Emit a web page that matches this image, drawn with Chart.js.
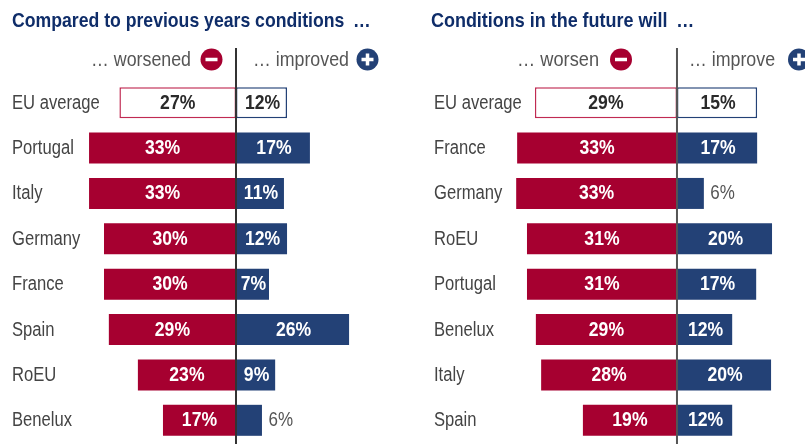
<!DOCTYPE html>
<html><head><meta charset="utf-8">
<style>
html,body{margin:0;padding:0;background:#fff;overflow:hidden}
canvas{display:block}
</style>
<script src="https://cdn.jsdelivr.net/npm/chart.js@4/dist/chart.umd.min.js"></script>
</head><body>
<div style="position:absolute;left:0;top:0;width:405px;height:444px"><canvas id="c1" width="405" height="444"></canvas></div>
<div style="position:absolute;left:405px;top:0;width:400px;height:444px"><canvas id="c2" width="400" height="444"></canvas></div>
<script>
// Left panel
const pastCategories = ["EU average","Portugal","Italy","Germany","France","Spain","RoEU","Benelux"];
const pastWorsened = [26.5,33.4,33.4,30.0,30.0,28.9,22.3,16.6];
const pastImproved = [11.6,16.8,10.9,11.6,7.5,25.7,8.9,5.9];
const pastWorsenedLabels = ["27%","33%","33%","30%","30%","29%","23%","17%"];
const pastImprovedLabels = ["12%","17%","11%","12%","7%","26%","9%","6%"];
// Right panel
const futureCategories = ["EU average","France","Germany","RoEU","Portugal","Benelux","Italy","Spain"];
const futureWorsen = [29.6,33.3,33.5,31.25,31.25,29.4,28.3,19.6];
const futureImprove = [16.7,16.7,5.6,19.8,16.5,11.5,19.6,11.5];
const futureWorsenLabels = ["29%","33%","33%","31%","31%","29%","28%","19%"];
const futureImproveLabels = ["15%","17%","6%","20%","17%","12%","20%","12%"];

const RED="#a60030", BLUE="#234176", FONT='"Liberation Sans",sans-serif';

// Draw text squeezed horizontally to imitate the condensed face of the reference
function squeezed(ctx,text,x,y,align,sx){
  ctx.save();ctx.translate(x,y);ctx.scale(sx,1);ctx.textAlign=align;ctx.fillText(text,0,0);ctx.restore();
}

function panel(id,o){
  const bg=(c)=>o.cats.map((_,i)=>i===0?"#ffffff":c);
  const decor={
    id:"decor",
    afterDatasetsDraw(chart){
      const {ctx,scales:{x,y}}=chart;
      const z=x.getPixelForValue(0);
      ctx.save();ctx.textBaseline="middle";
      o.cats.forEach((c,i)=>{
        const yy=y.getPixelForValue(i)+0.5;
        // category labels
        ctx.font='20px '+FONT;ctx.fillStyle="#444";
        squeezed(ctx,c,o.padLeft,yy,"left",0.83);
        // value labels
        const l=x.getPixelForValue(-o.neg[i]), r=x.getPixelForValue(o.pos[i]);
        ctx.font='bold 20px '+FONT;
        ctx.fillStyle=i===0?"#2a2a2a":"#ffffff";
        squeezed(ctx,o.negL[i],(l+z)/2,yy,"center",0.88);
        if(o.pos[i]<6){
          ctx.font='20px '+FONT;ctx.fillStyle="#555";
          squeezed(ctx,o.posL[i],r+6.5,yy,"left",0.85);
        }else{
          squeezed(ctx,o.posL[i],(r+z)/2+1,yy,"center",0.88);
        }
      });
      // zero line
      ctx.strokeStyle=o.lineColor;ctx.lineWidth=o.lineWidth;
      ctx.beginPath();ctx.moveTo(z,48);ctx.lineTo(z,444);ctx.stroke();
      // title
      ctx.textBaseline="alphabetic";
      ctx.fillStyle="#0f2d69";ctx.font='bold 21px '+FONT;
      squeezed(ctx,o.title,o.titleX,27,"left",o.titleSqueeze);
      // sub heads
      ctx.font='20px '+FONT;ctx.fillStyle="#555";ctx.textBaseline="middle";
      squeezed(ctx,o.negHead,o.negHeadRight,60,"right",o.headSqueeze);
      squeezed(ctx,o.posHead,o.posHeadLeft,60,"left",0.89);
      // icons
      ctx.fillStyle=RED;ctx.beginPath();ctx.arc(o.negIcon,59.5,11,0,7);ctx.fill();
      ctx.fillStyle=BLUE;ctx.beginPath();ctx.arc(o.posIcon,59.5,11,0,7);ctx.fill();
      ctx.fillStyle="#fff";
      ctx.fillRect(o.negIcon-6,57.75,12,3.5);
      ctx.fillRect(o.posIcon-6,57.75,12,3.5);
      ctx.fillRect(o.posIcon-1.75,53.5,3.5,12);
      ctx.restore();
    }
  };
  return new Chart(document.getElementById(id),{
    type:"bar",
    data:{labels:o.cats,datasets:[
      {label:o.negName,data:o.neg.map(v=>-v),backgroundColor:bg(RED),
       borderColor:o.cats.map((_,i)=>i===0?"#c02a52":RED),borderWidth:o.cats.map((_,i)=>i===0?1.5:0),borderSkipped:false,stack:"s"},
      {label:o.posName,data:o.pos,backgroundColor:bg(BLUE),
       borderColor:BLUE,borderWidth:o.cats.map((_,i)=>i===0?1.5:0),borderSkipped:false,stack:"s"}
    ]},
    options:{
      responsive:false,animation:false,indexAxis:"y",
      layout:{padding:{left:o.padLeft,right:0,top:80,bottom:1}},
      plugins:{legend:{display:false},tooltip:{enabled:false},title:{display:false}},
      datasets:{bar:{categoryPercentage:1,barPercentage:0.683}},
      scales:{
        x:{type:"linear",min:o.min,max:o.max,stacked:true,display:false},
        y:{type:"category",stacked:true,border:{display:false},grid:{display:false},
           afterFit(s){s.width=o.axisWidth;},
           ticks:{display:false,autoSkip:false}}
      }
    },
    plugins:[decor]
  });
}

panel("c1",{cats:pastCategories,neg:pastWorsened,pos:pastImproved,negL:pastWorsenedLabels,posL:pastImprovedLabels,
  negName:"worsened",posName:"improved",title:"Compared to previous years conditions\u2002…",titleX:12,titleSqueeze:0.84,headSqueeze:0.89,
  negHead:"… worsened",posHead:"… improved",negHeadRight:191,posHeadLeft:253,negIcon:211.5,posIcon:367.5,
  lineColor:"#333",lineWidth:2,padLeft:12,axisWidth:73,min:-34.32,max:38.41});
panel("c2",{cats:futureCategories,neg:futureWorsen,pos:futureImprove,negL:futureWorsenLabels,posL:futureImproveLabels,
  negName:"worsen",posName:"improve",title:"Conditions in the future will\u2002…",titleX:26,titleSqueeze:0.855,headSqueeze:0.91,
  negHead:"… worsen",posHead:"… improve",negHeadRight:194,posHeadLeft:284,negIcon:216,posIcon:394,
  lineColor:"#555",lineWidth:2,padLeft:29,axisWidth:71,min:-35.83,max:26.67});
</script>
</body></html>
